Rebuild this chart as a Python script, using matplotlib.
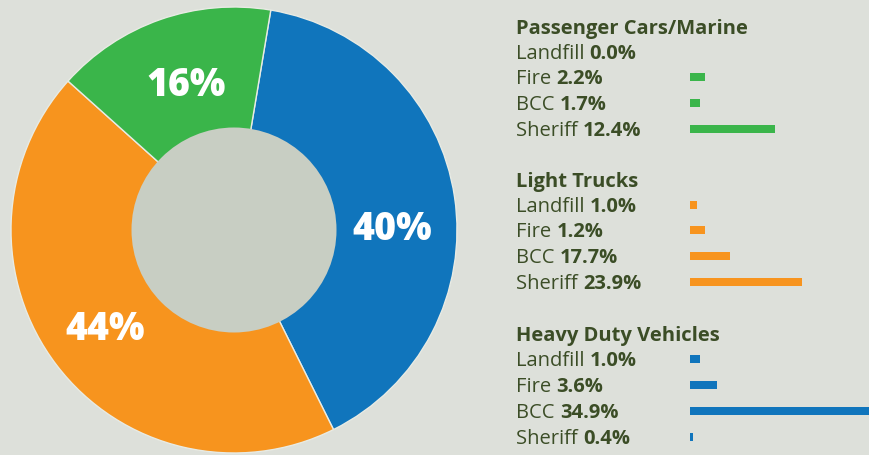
import matplotlib.pyplot as plt
from matplotlib.patches import Circle

# share of fleet by vehicle class (donut)
shares = [40, 44, 16]
share_labels = ["40%", "44%", "16%"]
class_colors = ["#1075bc", "#f7941e", "#3ab54a"]

# per-department breakdown
groups = ["Passenger Cars/Marine", "Light Trucks", "Heavy Duty Vehicles"]
group_colors = ["#3ab54a", "#f7941e", "#1075bc"]
depts = ["Landfill", "Fire", "BCC", "Sheriff"]
pct_pass = [0.0, 2.2, 1.7, 12.4]
pct_light = [1.0, 1.2, 17.7, 23.9]
pct_heavy = [1.0, 3.6, 34.9, 0.4]
# bar lengths as drawn in the graphic (not to scale with the printed numbers)
bar_pass = [0.0, 2.2, 1.5, 12.4]
bar_light = [1.07, 2.2, 5.8, 16.35]
bar_heavy = [1.5, 4.0, 35.0, 0.5]

bg = "#dde0da"
txt = "#3b4d26"
W, H = 870, 455
font = "Open Sans"

fig = plt.figure(figsize=(W / 100, H / 100), dpi=100, facecolor=bg)
ax = fig.add_axes([0, 0, 1, 1])
ax.set_facecolor(bg)

# donut
cx, cy, r_out, r_in = 234, H - 230, 223, 102.5
ax.pie(shares, colors=class_colors, startangle=80.5, counterclock=False,
       radius=r_out, center=(cx, cy), frame=True,
       wedgeprops=dict(linewidth=1, edgecolor="#e8ebe4"))
ax.add_patch(Circle((cx, cy), r_in, facecolor="#c8cec3", edgecolor="none", zorder=3))

label_pos = [(392, 229), (105, 329), (186, 86)]
for lab, (x, y) in zip(share_labels, label_pos):
    ax.text(x, H - y, lab, color="white", fontsize=27, fontweight="heavy",
            family=font, ha="center", va="center", zorder=4)

ax.set_xlim(0, W)
ax.set_ylim(0, H)
ax.set_aspect("equal")
ax.axis("off")

# bars on their own axes
axb = fig.add_axes([690 / W, 0, (W - 690) / W, 1])
axb.set_xlim(0, (W - 690) / 6.85)
axb.set_ylim(0, H)
axb.axis("off")

x_text = 516
head_y = [27, 180, 334.5]
all_pct = [pct_pass, pct_light, pct_heavy]
all_bar = [bar_pass, bar_light, bar_heavy]
fs = 14.5

for g, y0, col, pcts, bars in zip(groups, head_y, group_colors, all_pct, all_bar):
    ax.text(x_text, H - y0 - 7, g, color=txt, fontsize=fs, fontweight="bold",
            family=font, ha="left", va="baseline")
    rows = [y0 + 24.5 + 25.9 * i for i in range(len(depts))]
    axb.barh([H - y for y in rows], bars, height=8, color=col, left=0)
    for d, p, y in zip(depts, pcts, rows):
        t = ax.text(x_text, H - y - 7, d + " ", color=txt, fontsize=fs,
                    family=font, ha="left", va="baseline")
        ax.annotate(f"{p:.1f}%", xy=(1, 0), xycoords=t, color=txt,
                    fontsize=fs, fontweight="bold", family=font,
                    ha="left", va="bottom")

fig.savefig("out.png", dpi=100, facecolor=bg)
